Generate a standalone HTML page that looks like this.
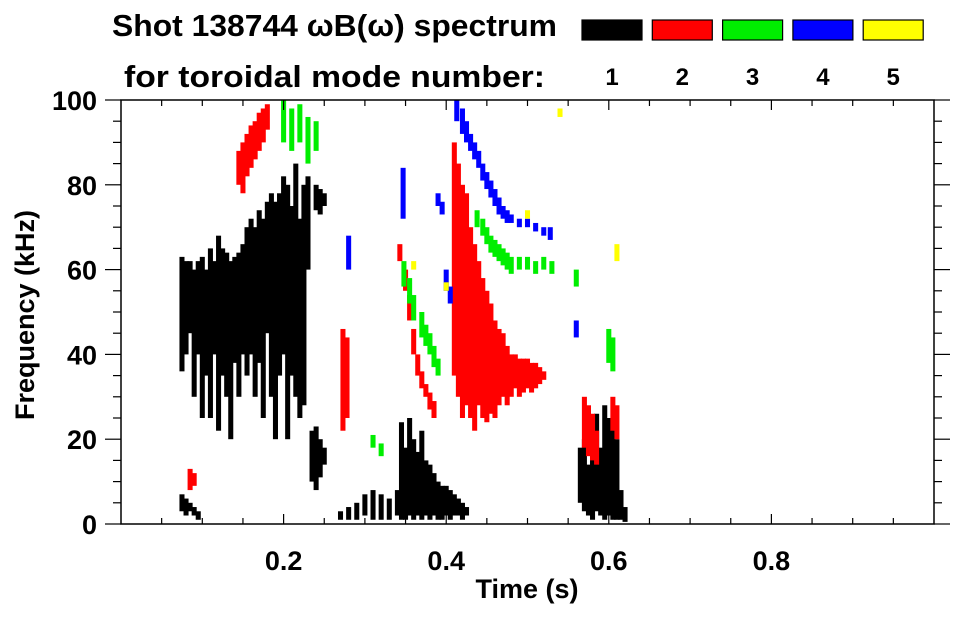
<!DOCTYPE html>
<html><head><meta charset="utf-8"><style>
body{margin:0;background:#fff;}
svg text{font-family:"Liberation Sans",Arial,sans-serif;font-weight:bold;fill:#000;}
</style></head><body>
<svg id="chart" width="963" height="615" viewBox="0 0 963 615" xmlns="http://www.w3.org/2000/svg">
<text x="112" y="36" font-size="31" textLength="445" lengthAdjust="spacingAndGlyphs">Shot 138744 ωB(ω) spectrum</text>
<text x="124" y="87" font-size="31" textLength="421" lengthAdjust="spacingAndGlyphs">for toroidal mode number:</text>
<g id="legend"></g>
<g id="marks"></g>
<g id="axes"></g>
<text x="527" y="598" font-size="27" text-anchor="middle">Time (s)</text>
<text transform="translate(34,315) rotate(-90)" font-size="27" text-anchor="middle">Frequency (kHz)</text>
</svg>
<script>
// data: [time(s), fLow(kHz), fHigh(kHz)]
const modeLabels=["1","2","3","4","5"];
const modeColors=["#000000","#ff0000","#00ee00","#0000ff","#ffff00"];
const xTicks=[0.2,0.4,0.6,0.8];
const yTicks=[0,20,40,60,80,100];
const mode1=[[0.075,36,63],[0.08,40,62],[0.085,45,62],[0.09,30,60],[0.095,40,62],[0.1,25,63],[0.105,35,60],[0.11,25,65],[0.115,40,62],[0.12,22,68],[0.125,35,65],[0.13,30,64],[0.135,20,62],[0.14,38,63],[0.145,30,64],[0.15,40,66],[0.155,35,70],[0.16,40,72],[0.165,30,70],[0.17,38,74],[0.175,25,72],[0.18,45,76],[0.185,30,78],[0.19,20,76],[0.195,35,78],[0.2,40,82],[0.205,20,80],[0.21,35,75],[0.215,30,85],[0.22,25,72],[0.225,28,80],[0.23,60,82],
[0.24,74,80],[0.245,73,79],[0.25,75,78],
[0.235,10,22],[0.24,8,23],[0.245,11,20],[0.25,14,18],
[0.075,3,7],[0.08,2,6],[0.085,3,5],[0.09,2,4],[0.095,1,3],
[0.27,1,3],[0.28,1,4],[0.29,1,5],[0.3,2,7],[0.31,1,8],[0.32,1,7],[0.33,1,6],[0.34,2,8],
[0.345,1,24],[0.35,1,18],[0.355,2,25],[0.36,1,20],[0.365,2,17],[0.37,1,22],[0.375,2,15],[0.38,1,14],[0.385,2,12],[0.39,1,10],[0.395,1,9],[0.4,2,9],[0.405,1,8],[0.41,2,7],[0.415,2,6],[0.42,1,5],[0.425,2,4],
[0.565,5,18],[0.57,3,20],[0.575,2,14],[0.58,1,22],[0.585,3,26],[0.59,2,18],[0.595,1,28],[0.6,2,25],[0.605,1,24],[0.61,1,20],[0.615,1,8],[0.62,0.5,4]];
const mode2=[[0.145,80,88],[0.15,78,90],[0.155,82,92],[0.16,84,94],[0.165,86,95],[0.17,88,97],[0.175,90,98],[0.18,93,99],
[0.085,8,13],[0.09,9,12],
[0.273,22,46],[0.278,25,44],
[0.343,62,66],[0.35,55,60],[0.355,48,54],[0.36,40,46],[0.365,35,40],[0.37,32,36],[0.375,30,33],[0.38,27,31],[0.385,25,29],
[0.41,35,90],[0.415,30,85],[0.42,25,80],[0.425,28,78],[0.43,25,70],[0.435,22,66],[0.44,28,62],[0.445,25,58],[0.45,24,55],[0.455,26,52],[0.46,25,48],[0.465,28,46],[0.47,30,45],[0.475,28,42],[0.48,30,40],[0.485,32,40],[0.49,30,39],[0.495,31,39],[0.5,32,39],[0.505,31,38],[0.51,32,38],[0.515,33,37],[0.52,34,36],
[0.57,18,30],[0.575,16,28],[0.58,15,26],[0.585,14,22],[0.605,22,30],[0.61,20,28]];
const mode3=[[0.2,90,100],[0.21,88,98],[0.22,90,99],[0.23,85,96],[0.24,88,95],
[0.348,56,62],[0.355,52,58],[0.36,48,54],[0.37,44,50],[0.375,42,47],[0.38,40,45],[0.385,37,42],[0.39,35,39],
[0.438,70,74],[0.445,68,72],[0.45,66,70],[0.455,64,68],[0.46,63,67],[0.465,62,66],[0.47,61,65],[0.475,60,64],[0.48,59,63],[0.49,60,63],[0.5,60,63],[0.51,59,62],[0.52,60,63],[0.53,59,62],[0.56,56,60],
[0.6,38,46],[0.605,36,44],[0.31,18,21],[0.32,16,19]];
const mode4=[[0.413,95,100],[0.42,92,98],[0.425,90,95],[0.43,88,92],[0.435,86,90],[0.44,84,88],[0.445,81,85],[0.45,79,83],[0.455,77,81],[0.46,75,79],[0.465,73,77],[0.47,72,75],[0.475,71,74],[0.48,71,73],[0.49,70,72],[0.5,70,72],[0.51,69,71],[0.52,68,70],[0.528,67,70],
[0.347,72,84],[0.28,60,68],[0.39,75,78],[0.395,73,76],[0.4,55,60],[0.405,52,56],[0.56,44,48]];
const mode5=[[0.36,60,62],[0.5,72,74],[0.61,62,66],[0.54,96,98],[0.4,55,57]];
const series=[mode1,mode2,mode3,mode4,mode5];
const X0=121,X1=934,Y0=524,Y1=100;
const xs=t=>X0+t*(X1-X0);
const ys=f=>Y0-f/100*(Y0-Y1);
const NS="http://www.w3.org/2000/svg";
function mk(tag,attrs,parent){const e=document.createElementNS(NS,tag);for(const k in attrs)e.setAttribute(k,attrs[k]);parent.appendChild(e);return e;}
const marks=document.getElementById('marks');
const W=0.0062;
series.forEach((s,i)=>{s.forEach(d=>{
 const r=mk('rect',{x:xs(d[0]-W/2),y:ys(d[2]),width:xs(W)-X0,height:ys(d[1])-ys(d[2]),fill:modeColors[i]},marks);
 
 
});});
const leg=document.getElementById('legend');
modeLabels.forEach((m,i)=>{
 const bx=582+i*70.3;
 const r=mk('rect',{x:bx,y:20,width:60,height:20,fill:modeColors[i],stroke:'#000','stroke-width':1.2},leg);
 
 
 const t=mk('text',{x:bx+30,y:85,'font-size':24,'text-anchor':'middle'},leg);t.textContent=m;
 
 
});
const ax=document.getElementById('axes');
mk('rect',{x:X0,y:Y1,width:X1-X0,height:Y0-Y1,fill:'none',stroke:'#000','stroke-width':1.5},ax);
for(let t=0.05;t<1;t+=0.05){const major=Math.abs(t*5-Math.round(t*5))<1e-6;const L=major?10:6;
 mk('line',{x1:xs(t),x2:xs(t),y1:Y0,y2:Y0-L,stroke:'#000','stroke-width':1.2},ax);
 mk('line',{x1:xs(t),x2:xs(t),y1:Y1,y2:Y1+L,stroke:'#000','stroke-width':1.2},ax);}
for(let f=0;f<=100;f+=5){const major=f%20===0;const L=major?16:8;
 mk('line',{x1:X0-L,x2:X0,y1:ys(f),y2:ys(f),stroke:'#000','stroke-width':1.2},ax);
 mk('line',{x1:X1,x2:X1+L,y1:ys(f),y2:ys(f),stroke:'#000','stroke-width':1.2},ax);}
xTicks.forEach(v=>{const t=mk('text',{x:xs(v),y:570,'font-size':27,'text-anchor':'middle'},ax);t.textContent=v.toFixed(1);
 
 });
yTicks.forEach(v=>{const t=mk('text',{x:97,y:ys(v)+10,'font-size':27,'text-anchor':'end'},ax);t.textContent=v;
 
 });
</script>
</body></html>
